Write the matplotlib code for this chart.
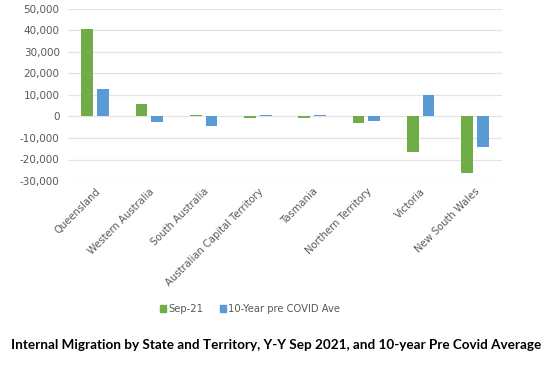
import matplotlib

matplotlib.use("Agg")
import matplotlib.pyplot as plt
import numpy as np
from matplotlib.patches import Patch

plt.rcParams["font.family"] = ["DejaVu Sans"]

states = [
    "Queensland",
    "Western Australia",
    "South Australia",
    "Australian Capital Territory",
    "Tasmania",
    "Northern Territory",
    "Victoria",
    "New South Wales",
]
sep21 = [40600, 6000, 600, -700, -800, -2800, -16700, -26100]
pre_covid_avg = [12800, -2500, -4500, 600, 500, -2200, 9900, -14000]
yticks = [-30000, -20000, -10000, 0, 10000, 20000, 30000, 40000, 50000]

GREEN = "#70AD47"
BLUE = "#5B9BD5"
GREY = "#595959"

fig = plt.figure(figsize=(5.55, 3.66), dpi=100)
ax = fig.add_axes([68 / 555, 1 - 181 / 366, 434 / 555, 172 / 366])

x = np.arange(len(states))
w = 0.22
ax.bar(x - 0.145, sep21, w, color=GREEN, zorder=3)
ax.bar(x + 0.145, pre_covid_avg, w, color=BLUE, zorder=3)

ax.set_xlim(-0.5, len(states) - 0.5)
ax.set_ylim(yticks[0], yticks[-1])
ax.set_yticks(yticks)
ax.set_yticklabels([f"{v:,}" for v in yticks], fontsize=7.5, color=GREY)
ax.set_xticks(x)
ax.set_xticklabels(states, rotation=45, ha="right", rotation_mode="anchor",
                   fontsize=7.2, color=GREY)
ax.tick_params(length=0, pad=6)
ax.tick_params(axis="x", pad=4)
ax.grid(axis="y", color="#e3e3e3", linewidth=0.9, zorder=0)
for s in ax.spines.values():
    s.set_visible(False)

handles = [Patch(color=GREEN, label="Sep-21"), Patch(color=BLUE, label="10-Year pre COVID Ave")]
fig.legend(handles=handles, loc="center", bbox_to_anchor=(250 / 555, 1 - 309 / 366),
           ncol=2, frameon=False, fontsize=7.2, handlelength=0.6, handleheight=0.6,
           handletextpad=0.3, columnspacing=1.6, labelcolor=GREY)

fig.text(276 / 555, 1 - 345 / 366,
         "Internal Migration by State and Territory, Y-Y Sep 2021, and 10-year Pre Covid Average",
         ha="center", va="center", fontsize=9.7, fontweight="bold", family="Lato")

fig.savefig("out.png", dpi=100)
